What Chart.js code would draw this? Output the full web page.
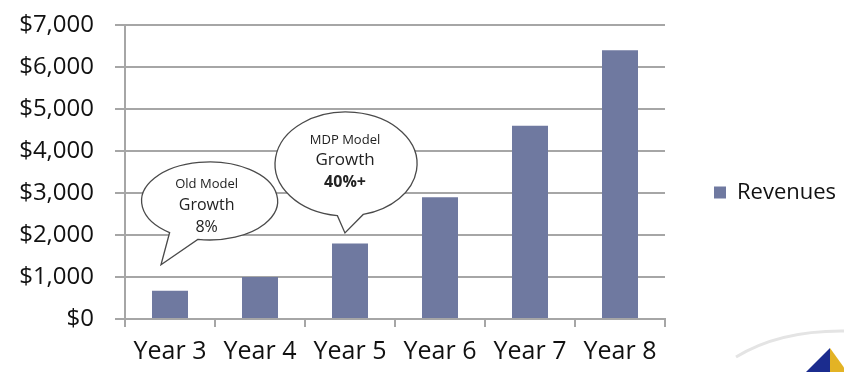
<!DOCTYPE html>
<html>
<head>
<meta charset="utf-8">
<script src="https://cdn.jsdelivr.net/npm/chart.js@4/dist/chart.umd.min.js"></script>
<style>
  html, body { margin: 0; padding: 0; background: #fff; }
  #wrap { width: 844px; height: 372px; position: relative; }
</style>
</head>
<body>
<div id="wrap"><canvas id="c" width="844" height="372"></canvas></div>
<script>
// Revenue by year (thousands of dollars)
const years = ['Year 3', 'Year 4', 'Year 5', 'Year 6', 'Year 7', 'Year 8'];
const revenues = [670, 1000, 1800, 2900, 4600, 6400];
const seriesName = 'Revenues';

// Growth call-outs: text lines, anchor (category index, value) and tail tip
const oldModelLines = ['Old Model', 'Growth', '8%'];
const mdpModelLines = ['MDP Model', 'Growth', '40%+'];
const oldModelAnchor = [0.44, 2810];
const oldModelTip = [-0.1, 1290];
const mdpModelAnchor = [1.956, 3690];
const mdpModelTip = [1.944, 2050];

const FONT = "'Open Sans', 'Liberation Sans', sans-serif";
const GRID = '#a6a6a6';

function drawCallout(ctx, x, y, s, anchor, tip, rx, ry, gapA, gapB, lines, offsets, fonts) {
  const cx = x.getPixelForValue(anchor[0]);
  const cy = y.getPixelForValue(anchor[1]);
  const tx = x.getPixelForValue(tip[0]);
  const ty = y.getPixelForValue(tip[1]);
  const a1 = gapB * Math.PI / 180;
  const a0 = gapA * Math.PI / 180;
  ctx.save();
  ctx.beginPath();
  ctx.ellipse(cx, cy, rx, ry, 0, a1, a0 + Math.PI * 2, false);
  ctx.lineTo(tx, ty);
  ctx.closePath();
  ctx.fillStyle = '#ffffff';
  ctx.fill();
  ctx.lineWidth = 1.3;
  ctx.strokeStyle = '#4a4a4a';
  ctx.stroke();
  ctx.fillStyle = '#222';
  ctx.textAlign = 'center';
  ctx.textBaseline = 'middle';
  lines.forEach((t, i) => {
    ctx.font = fonts[i];
    ctx.fillText(t, cx + s, cy + offsets[i]);
  });
  ctx.restore();
}

const calloutPlugin = {
  id: 'callouts',
  afterDatasetsDraw(chart) {
    const { ctx, scales: { x, y } } = chart;
    drawCallout(ctx, x, y, -3, oldModelAnchor, oldModelTip, 68, 39, 100, 126, oldModelLines,
      [-17, 4, 26],
      ["13px " + FONT, "16px " + FONT, "16px " + FONT]);
    drawCallout(ctx, x, y, -1, mdpModelAnchor, mdpModelTip, 71, 52, 76, 97, mdpModelLines,
      [-24, -4, 18],
      ["13px " + FONT, "17px " + FONT, "bold 16px " + FONT]);
  }
};

// Corner emblem: pale arc and a blue / gold pyramid tip
const emblemPlugin = {
  id: 'emblem',
  afterDraw(chart) {
    const ctx = chart.ctx;
    ctx.save();
    ctx.beginPath();
    ctx.moveTo(736, 357);
    ctx.quadraticCurveTo(780, 330, 846, 331);
    ctx.lineWidth = 3;
    ctx.strokeStyle = '#e4e4e4';
    ctx.stroke();
    ctx.beginPath();
    ctx.moveTo(830, 348);
    ctx.lineTo(805, 373);
    ctx.lineTo(830, 373);
    ctx.closePath();
    ctx.fillStyle = '#1b2c8e';
    ctx.fill();
    ctx.beginPath();
    ctx.moveTo(830, 348);
    ctx.lineTo(830, 373);
    ctx.lineTo(848, 373);
    ctx.closePath();
    ctx.fillStyle = '#e3b325';
    ctx.fill();
    ctx.restore();
  }
};

new Chart(document.getElementById('c'), {
  type: 'bar',
  data: {
    labels: years,
    datasets: [{
      label: seriesName,
      data: revenues,
      backgroundColor: '#6f79a0',
      borderWidth: 0,
      barPercentage: 0.4,
      categoryPercentage: 1.0
    }]
  },
  options: {
    responsive: false,
    animation: false,
    layout: { padding: { top: 25, right: 0, bottom: 12, left: 0 } },
    plugins: {
      tooltip: { enabled: false },
      legend: {
        position: 'right',
        maxWidth: 179,
        labels: {
          boxWidth: 12,
          boxHeight: 12,
          padding: 49,
          color: '#111',
          font: { family: FONT, size: 22 }
        }
      }
    },
    scales: {
      x: {
        offset: true,
        grid: {
          offset: true,
          drawOnChartArea: false,
          drawTicks: true,
          tickLength: 8,
          color: GRID,
          lineWidth: 2
        },
        border: { color: GRID, width: 2 },
        ticks: {
          color: '#111',
          padding: 10,
          font: { family: FONT, size: 25 },
          maxRotation: 0
        },
        afterFit(scale) { scale.height = 41; }
      },
      y: {
        min: 0,
        max: 7000,
        ticks: {
          stepSize: 1000,
          color: '#111',
          padding: 21,
          font: { family: FONT, size: 24 },
          callback: (v) => '$' + v.toLocaleString('en-US')
        },
        grid: {
          color: GRID,
          lineWidth: 2,
          tickLength: 10
        },
        border: { color: GRID, width: 2 },
        afterFit(scale) {
          scale.width = 125;
          scale.paddingTop = 10;
          scale.paddingBottom = 10;
        }
      }
    }
  },
  plugins: [calloutPlugin, emblemPlugin]
});
</script>
</body>
</html>
